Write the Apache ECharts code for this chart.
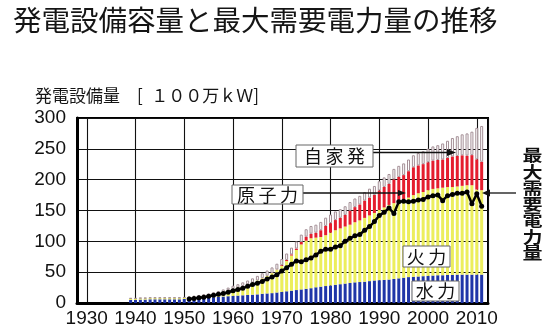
<!DOCTYPE html>
<html><head><meta charset="utf-8">
<script src="https://cdn.jsdelivr.net/npm/echarts@6/dist/echarts.min.js"></script>
<style>html,body{margin:0;padding:0;background:#fff}#c{width:553px;height:330px}</style>
</head><body><div id="c"></div>
<script>
var years = [1939,1940,1941,1942,1943,1944,1945,1946,1947,1948,1949,1950,
1951,1952,1953,1954,1955,1956,1957,1958,1959,1960,
1961,1962,1963,1964,1965,1966,1967,1968,1969,1970,
1971,1972,1973,1974,1975,1976,1977,1978,1979,1980,
1981,1982,1983,1984,1985,1986,1987,1988,1989,1990,
1991,1992,1993,1994,1995,1996,1997,1998,1999,2000,
2001,2002,2003,2004,2005,2006,2007,2008,2009,2010,2011];

var hydro = [5,5,5.5,5.5,6,6,6,6,6,6,6,6.5,
7,7.5,8,8.5,9,9.5,10,10.5,11,11.5,
12,12.5,13,13.5,14,15,15.5,16,17,18,
19,20,21,22,23,24,25.5,26.5,27.5,28.5,
29.5,30.5,31.5,32.5,33.5,34,34.5,35.5,36.5,37,
37.5,38,39,40,41,42,42.5,43,43.5,44,
44.5,45,45,45.5,45.5,46,46,46,46,46,46];

var thermal = [2,2,2,2,2,2,2,2,2,2,2,2,
2,2.5,3,3.5,4,5,6,7.5,9.5,11.5,
13,15,17,19.5,22.5,25,28.5,32.5,37,42,
49,57,65,73,78,81,80.5,80.5,82.5,85.5,
88.5,90.5,92.5,94.5,97.5,100,103.5,106.5,109.5,114,
117.5,121,123,124,125,129,132.5,135,136.5,139,
140.5,141,142,142.5,142.5,143,144,145,145,138,137];

var nuclear = [0,0,0,0,0,0,0,0,0,0,0,0,
0,0,0,0,0,0,0,0,0,0,
0,0,0,0,0,0.2,0.2,0.2,0.2,1.3,
1.8,1.8,2.3,3.9,6.6,7.4,8.0,11.0,14.9,15.5,
16.5,17.2,18.9,22.7,24.5,25.8,28.0,28.9,29.3,31.5,
33.2,34.2,38.5,40.4,41.4,42.7,45.1,45.1,45.2,45.2,
45.9,45.9,45.7,47.1,49.6,49.5,49.5,48.0,48.8,49.0,46.1];

var selfGen = [1,1,1,1,1,1,1,1,1,1,1,1,
1.5,1.7,2,2.2,2.5,3,3.5,4,4.5,5,
5.5,6,6.5,7,7.5,8,8.5,9,9.5,10,
10.5,11,11.5,12,12,12.5,13,13.5,13.5,14,
14,14,14,14,14,14,14,14.5,14.5,15,
15.5,16,17,18,19,19,19.5,20,21,22,
23,24,26,28,30,32,34,36,38,51,58];

var demand = [null,null,null,null,null,null,null,null,null,null,null,null,
6.5,7.5,8.5,9.5,11,12.5,14,15.5,17.5,20,
22,24,27,30,32,35,39,42,46,52,
57,63,68,67,70,73,78,84,87,87,
91,93,100,105,109,111,118,124,132,142,
147,154,145,164,165,164,165,167,168,172,
174,175,166,174,176,178,178,180,161,177,157];

var yTicks = [0,50,100,150,200,250,300];

// value first, year second (encode maps x to dim 1) so that stacking applies to the value dimension
function pairs(arr){ return years.map(function(y,i){ return [arr[i], y]; }); }

var CJK = "'Noto Sans CJK JP', sans-serif";
var LAT = "'Liberation Sans', Arial, sans-serif";

function box(x, y, w, h, label){
  return [
    {type:'rect', z:100, shape:{x:x, y:y, width:w, height:h}, style:{fill:'#fff', stroke:'#666', lineWidth:1}},
    {type:'text', z:101, x:x+w/2, y:y+h/2+0.5, style:{text:label, fontSize:18, fontFamily:CJK, fill:'#111', align:'center', verticalAlign:'middle'}}
  ];
}

var chart = echarts.init(document.getElementById('c'), null, {renderer:'canvas'});
var graphics = [
  {type:'text', z:100, x:13, y:20.5, style:{text:'発電設備容量と最大需要電力量の推移', fontSize:28.5, fontFamily:CJK, fill:'#151515', align:'left', verticalAlign:'middle'}},
  {type:'text', z:100, x:35, y:95.5, style:{text:'発電設備量\u3000[\u2002１００万ｋＷ]', fontSize:17, fontFamily:CJK, fill:'#151515', align:'left', verticalAlign:'middle'}},
  {type:'line', z:99, shape:{x1:373, y1:152.5, x2:449, y2:152.5}, style:{stroke:'#111', lineWidth:1.3}},
  {type:'polygon', z:99, shape:{points:[[447,149],[456,152.5],[447,156]]}, style:{fill:'#111'}},
  {type:'line', z:99, shape:{x1:303, y1:193, x2:400, y2:193}, style:{stroke:'#111', lineWidth:1.3}},
  {type:'polygon', z:99, shape:{points:[[398,190],[406,193],[398,196]]}, style:{fill:'#111'}},
  {type:'line', z:99, shape:{x1:489, y1:193, x2:516, y2:193}, style:{stroke:'#111', lineWidth:1.3}},
  {type:'polygon', z:99, shape:{points:[[482,193],[490,189.5],[490,196.5]]}, style:{fill:'#111'}},
  {type:'text', z:100, x:532.5, y:147, scaleX:1.25, style:{text:'最\n大\n需\n要\n電\n力\n量', fontSize:16, lineHeight:16.3, fontWeight:'bold', fontFamily:CJK, fill:'#111', align:'center', verticalAlign:'top'}}
].concat(box(296,145,77,22,'自\u2009家\u2009発'))
 .concat(box(232,185,71,19,'原\u2009子\u2009力'))
 .concat(box(403,246,47,21,'火\u2009力'))
 .concat(box(412,281,47,20,'水\u2009力'));

var enc = {x:1, y:0};
chart.setOption({
  animation:false,
  backgroundColor:'#fff',
  grid:{left:77, right:65, top:118, bottom:27, show:true, borderColor:'#000', borderWidth:2, backgroundColor:'transparent'},
  xAxis:{
    type:'value', min:1928, max:2012.3, splitNumber:8,
    axisLine:{show:true, onZero:false, lineStyle:{color:'#000', width:3}},
    axisTick:{show:false},
    axisLabel:{showMinLabel:false, showMaxLabel:false, margin:6, fontSize:19, fontFamily:LAT, color:'#111',
      formatter:function(v){ return (v % 10 === 0) ? String(v) : ''; }},
    splitLine:{show:true, lineStyle:{color:'#111', width:1.1}}
  },
  yAxis:{
    type:'value', min:yTicks[0], max:yTicks[yTicks.length-1], interval:50,
    axisLine:{show:true, lineStyle:{color:'#000', width:3}},
    axisTick:{show:false},
    axisLabel:{margin:11, fontSize:19, fontFamily:LAT, color:'#111'},
    splitLine:{show:true, lineStyle:{color:'#111', width:1.1}}
  },
  series:[
    {name:'水力', type:'bar', stack:'cap', barWidth:3, encode:enc, data:pairs(hydro), itemStyle:{color:'#1f35a8'}},
    {name:'火力', type:'bar', stack:'cap', barWidth:3, encode:enc, data:pairs(thermal), itemStyle:{color:'#ecee5c'}},
    {name:'原子力', type:'bar', stack:'cap', barWidth:3, encode:enc, data:pairs(nuclear), itemStyle:{color:'#e51d2e'}},
    {name:'自家発', type:'bar', stack:'cap', barWidth:3, encode:enc, data:pairs(selfGen), itemStyle:{color:'#ffffff', borderColor:'#a48f96', borderWidth:1}},
    {name:'最大需要電力量', type:'line', encode:enc, data:pairs(demand), symbol:'circle', symbolSize:5, z:5,
      itemStyle:{color:'#000'}, lineStyle:{color:'#000', width:2.5}}
  ],
  graphic:graphics
});
</script></body></html>
